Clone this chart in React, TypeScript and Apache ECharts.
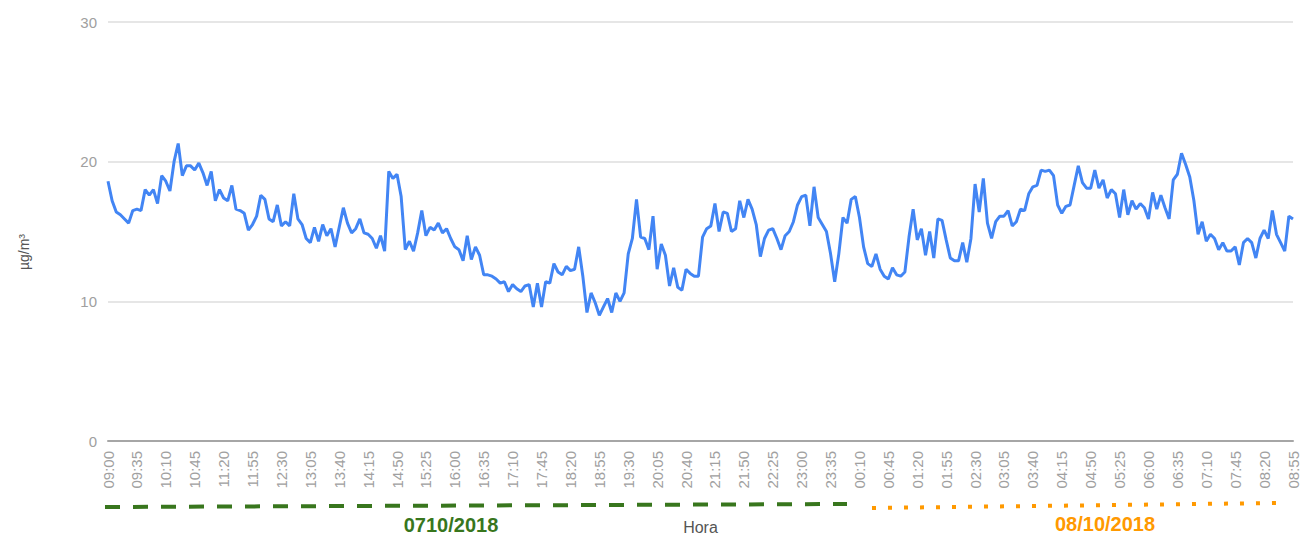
import React, { useEffect, useRef } from "react";
import * as echarts from "echarts";

// Time categories: every 5 minutes from 09:00 (07/10/2018) to 08:55 (08/10/2018)
const startMinutes = 9 * 60;
const stepMinutes = 5;
const pointCount = 288;
const timeLabels: string[] = [];
for (let k = 0; k < pointCount; k++) {
  const m = (startMinutes + k * stepMinutes) % (24 * 60);
  const hh = String(Math.floor(m / 60)).padStart(2, "0");
  const mm = String(m % 60).padStart(2, "0");
  timeLabels.push(`${hh}:${mm}`);
}

// µg/m³ readings, 07/10/2018 09:00 – 23:55
const valuesDay1: number[] = [
  18.6, 17.2, 16.4, 16.2, 15.9, 15.6, 16.5, 16.6, 16.5, 18.0,
  17.6, 18.0, 17.0, 19.0, 18.6, 17.9, 20.0, 21.3, 19.0, 19.7,
  19.7, 19.4, 19.9, 19.2, 18.3, 19.3, 17.2, 18.0, 17.4, 17.2,
  18.3, 16.6, 16.5, 16.3, 15.1, 15.5, 16.1, 17.6, 17.3, 15.9,
  15.7, 16.9, 15.4, 15.7, 15.4, 17.7, 15.9, 15.5, 14.5, 14.2,
  15.3, 14.3, 15.5, 14.7, 15.2, 13.9, 15.3, 16.7, 15.6, 14.9,
  15.2, 15.9, 14.9, 14.8, 14.5, 13.8, 14.7, 13.6, 19.3, 18.8,
  19.1, 17.5, 13.7, 14.3, 13.6, 14.9, 16.5, 14.7, 15.3, 15.1,
  15.6, 14.9, 15.2, 14.5, 13.9, 13.7, 12.9, 14.7, 13.0, 13.9,
  13.3, 11.9, 11.9, 11.8, 11.6, 11.3, 11.4, 10.7, 11.2, 10.9,
  10.7, 11.1, 11.2, 9.6, 11.3, 9.6, 11.4, 11.3, 12.7, 12.1,
  11.9, 12.5, 12.2, 12.3, 13.9, 11.8, 9.2, 10.6, 9.9, 9.0,
  9.6, 10.2, 9.2, 10.6, 10.0, 10.6, 13.4, 14.5, 17.3, 14.6,
  14.5, 13.7, 16.1, 12.3, 14.1, 13.3, 11.1, 12.4, 11.0, 10.8,
  12.3, 12.0, 11.8, 11.8, 14.6, 15.2, 15.4, 17.0, 15.0, 16.4,
  16.3, 15.0, 15.2, 17.2, 16.0, 17.3, 16.6, 15.5, 13.2, 14.5,
  15.1, 15.2, 14.5, 13.7, 14.7, 15.0, 15.7, 16.9, 17.5, 17.6,
  15.4, 18.2, 16.0, 15.5, 15.0, 13.4, 11.4, 13.4, 16.0, 15.6,
];

// µg/m³ readings, 08/10/2018 00:00 – 08:55
const valuesDay2: number[] = [
  17.3, 17.5, 16.0, 13.9, 12.7, 12.5, 13.4, 12.3, 11.8, 11.6,
  12.4, 11.9, 11.8, 12.1, 14.6, 16.6, 14.4, 15.2, 13.3, 15.0,
  13.1, 15.9, 15.8, 14.4, 13.1, 12.9, 12.9, 14.2, 12.8, 14.5,
  18.4, 16.4, 18.8, 15.6, 14.5, 15.7, 16.1, 16.1, 16.5, 15.4,
  15.7, 16.6, 16.5, 17.7, 18.2, 18.3, 19.4, 19.3, 19.4, 19.0,
  16.9, 16.3, 16.8, 16.9, 18.3, 19.7, 18.5, 18.1, 18.1, 19.4,
  18.1, 18.7, 17.4, 18.0, 17.7, 16.0, 18.0, 16.2, 17.2, 16.6,
  17.0, 16.7, 15.9, 17.8, 16.6, 17.6, 16.7, 15.9, 18.7, 19.1,
  20.6, 19.8, 18.9, 17.2, 14.8, 15.7, 14.3, 14.8, 14.5, 13.7,
  14.2, 13.6, 13.6, 13.9, 12.6, 14.2, 14.5, 14.2, 13.1, 14.5,
  15.1, 14.5, 16.5, 14.8, 14.2, 13.6, 16.1, 15.9,
];

const yTicks = { min: 0, max: 30, interval: 10 };
const yAxisTitle = "µg/m³";
const xAxisTitle = "Hora";
const day1Label = "0710/2018";
const day2Label = "08/10/2018";

const FONT = "'Liberation Sans', Arial, sans-serif";

export default function App() {
  const ref = useRef<HTMLDivElement>(null);

  useEffect(() => {
    if (!ref.current) return;
    const chart = echarts.init(ref.current, undefined, { renderer: "svg" });
    const values = valuesDay1.concat(valuesDay2);

    chart.setOption({
      animation: false,
      backgroundColor: "#ffffff",
      grid: {
        left: 108,
        right: 10,
        top: 22,
        bottom: 95,
        containLabel: false,
        outerBoundsMode: "none",
      },
      xAxis: {
        type: "category",
        data: timeLabels,
        boundaryGap: false,
        name: xAxisTitle,
        nameLocation: "middle",
        nameGap: 78,
        nameTextStyle: { color: "#555555", fontSize: 16, fontFamily: FONT },
        axisLine: { show: true, lineStyle: { color: "#a6a6a6", width: 2 } },
        axisTick: { show: false },
        axisLabel: {
          interval: 6,
          rotate: 90,
          margin: 10,
          color: "#a0a0a0",
          fontSize: 15,
          fontFamily: FONT,
        },
        splitLine: { show: false },
      },
      yAxis: {
        type: "value",
        min: yTicks.min,
        max: yTicks.max,
        interval: yTicks.interval,
        axisLine: { show: false },
        axisTick: { show: false },
        axisLabel: { margin: 11, color: "#a0a0a0", fontSize: 15, fontFamily: FONT },
        splitLine: { show: true, lineStyle: { color: "#e6e6e6", width: 2 } },
      },
      series: [
        {
          type: "line",
          data: values,
          showSymbol: false,
          symbol: "none",
          lineStyle: { color: "#4285f4", width: 3 },
          itemStyle: { color: "#4285f4" },
        },
      ],
      graphic: [
        {
          type: "text",
          x: 24,
          y: 252,
          rotation: Math.PI / 2,
          style: {
            text: yAxisTitle,
            fill: "#555555",
            fontSize: 14,
            fontFamily: FONT,
            align: "center",
            verticalAlign: "middle",
          },
        },
        {
          type: "line",
          shape: { x1: 105, y1: 507, x2: 847, y2: 504 },
          style: { stroke: "#38761d", lineWidth: 4, lineDash: [15, 13] },
        },
        {
          type: "line",
          shape: { x1: 872, y1: 508, x2: 1278, y2: 503 },
          style: { stroke: "#ff9900", lineWidth: 4, lineDash: [4, 12] },
        },
        {
          type: "text",
          x: 451,
          y: 525,
          style: {
            text: day1Label,
            fill: "#38761d",
            fontSize: 20,
            fontWeight: "bold",
            fontFamily: FONT,
            align: "center",
            verticalAlign: "middle",
          },
        },
        {
          type: "text",
          x: 1105,
          y: 524,
          style: {
            text: day2Label,
            fill: "#ff9900",
            fontSize: 20,
            fontWeight: "bold",
            fontFamily: FONT,
            align: "center",
            verticalAlign: "middle",
          },
        },
      ],
    });

    return () => chart.dispose();
  }, []);

  return (
    <div
      ref={ref}
      style={{ position: "fixed", left: 0, top: 0, width: 1303, height: 536 }}
    />
  );
}
